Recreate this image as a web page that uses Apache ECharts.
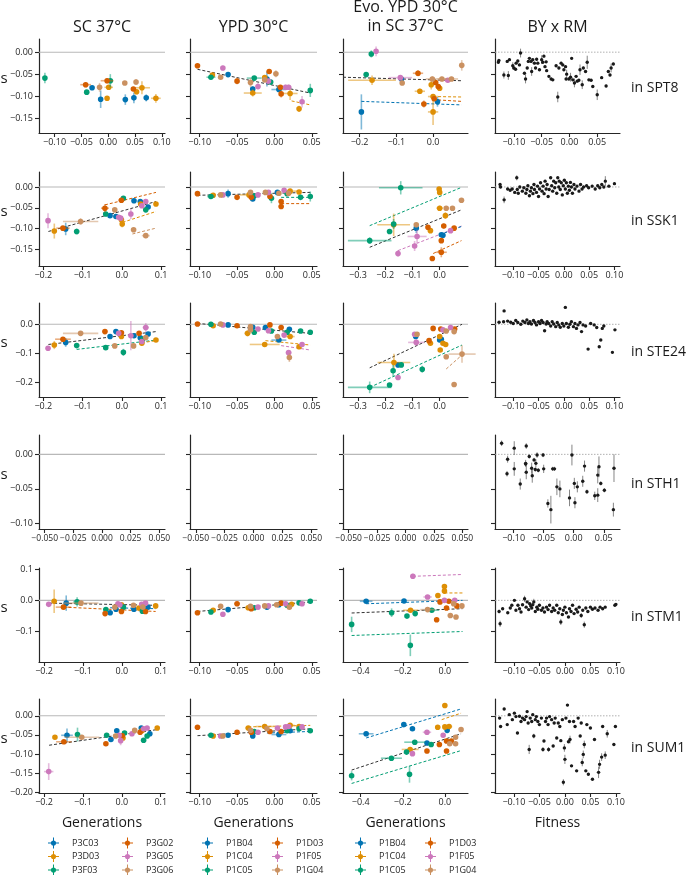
<!DOCTYPE html>
<html><head><meta charset="utf-8">
<script src="https://cdn.jsdelivr.net/npm/echarts@6/dist/echarts.min.js"></script>
<style>html,body{margin:0;padding:0;background:#fff}#c{width:686px;height:875px}</style>
</head><body><div id="c"></div>
<script>
// ---------------- labels ----------------
const genes = ['SPT8','SSK1','STE24','STH1','STM1','SUM1'];
const colTitles = ['SC 37°C','YPD 30°C','Evo. YPD 30°C\nin SC 37°C','BY x RM'];
const xTitles = ['Generations','Generations','Generations','Fitness'];
const strainsSC = ['P3C03','P3D03','P3F03','P3G02','P3G05','P3G06'];
const strainsYPD = ['P1B04','P1C04','P1C05','P1D03','P1F05','P1G04'];

// ---------------- tick labels ----------------
const ticksFit5 = [-0.10,-0.05,0.00,0.05,0.10];
const ticksFit4 = [-0.10,-0.05,0.00,0.05];
const ticksGen3 = [-0.2,-0.1,0.0];
const ticksGen4 = [-0.2,-0.1,0.0,0.1];
const ticksGenWide = [-0.3,-0.2,-0.1,0.0];
const ticksGenWider = [-0.4,-0.2,0.0];
const ticksEmpty = [-0.050,-0.025,0.000,0.025,0.050];
const yTicksSPT8 = [-0.15,-0.10,-0.05,0.00];
const yTicksSSK1 = [-0.15,-0.10,-0.05,0.00];
const yTicksSTE24 = [-0.2,-0.1,0.0];
const yTicksSTH1 = [-0.10,-0.05,0.00];
const yTicksSTM1 = [-0.1,0.0,0.1];
const yTicksSUM1 = [-0.20,-0.15,-0.10,-0.05,0.00];

// ---------------- data: [strain, x, y, xerr, yerr] ----------------
const pts_SPT8_SC = [[2,-0.118,-0.059,0.003,0.012],[3,-0.042,-0.074,0.010,0.006],[2,-0.040,-0.091,0.003,0.004],[0,-0.030,-0.081,0.003,0.004],[5,-0.016,-0.080,0.004,0.010],[0,-0.014,-0.107,0.004,0.020],[3,-0.002,-0.065,0.012,0.006],[2,0.004,-0.065,0.003,0.015],[1,0.001,-0.080,0.008,0.005],[1,-0.002,-0.105,0.003,0.004],[5,0.031,-0.070,0.003,0.004],[0,0.032,-0.108,0.003,0.012],[5,0.052,-0.068,0.003,0.007],[3,0.047,-0.084,0.004,0.005],[1,0.053,-0.090,0.003,0.006],[0,0.048,-0.104,0.003,0.012],[1,0.063,-0.081,0.015,0.015],[0,0.071,-0.104,0.003,0.008],[1,0.089,-0.105,0.009,0.010]];
const fit_SPT8_SC = [];
const pts_SPT8_YPD = [[3,-0.103,-0.031,0.002,0.004],[2,-0.085,-0.057,0.006,0.005],[1,-0.083,-0.052,0.002,0.004],[4,-0.069,-0.036,0.002,0.005],[5,-0.072,-0.057,0.002,0.004],[0,-0.062,-0.051,0.002,0.005],[3,-0.050,-0.066,0.003,0.007],[5,-0.032,-0.069,0.002,0.010],[1,-0.029,-0.093,0.012,0.008],[0,-0.029,-0.084,0.002,0.006],[2,-0.027,-0.059,0.010,0.004],[4,-0.022,-0.078,0.002,0.007],[1,-0.013,-0.058,0.002,0.004],[5,-0.013,-0.063,0.002,0.004],[0,-0.010,-0.061,0.002,0.017],[3,-0.007,-0.044,0.003,0.004],[4,-0.008,-0.066,0.002,0.004],[2,-0.005,-0.068,0.003,0.006],[5,0.002,-0.049,0.002,0.008],[0,0.006,-0.085,0.010,0.004],[3,0.009,-0.095,0.002,0.008],[3,0.008,-0.080,0.003,0.005],[4,0.015,-0.080,0.002,0.006],[4,0.019,-0.080,0.004,0.006],[1,0.021,-0.094,0.010,0.015],[1,0.033,-0.129,0.002,0.007],[4,0.037,-0.113,0.002,0.013],[2,0.048,-0.087,0.002,0.015]];
const fit_SPT8_YPD = [[-1,-0.103,-0.039,0.048,-0.093],[1,0.023,-0.111,0.048,-0.120]];
const pts_SPT8_EVO = [[2,-0.168,-0.004,0.002,0.008],[4,-0.155,0.002,0.003,0.011],[2,-0.182,-0.051,0.004,0.005],[1,-0.166,-0.064,0.065,0.011],[4,-0.089,-0.058,0.032,0.005],[5,-0.084,-0.070,0.004,0.005],[0,-0.086,-0.061,0.004,0.006],[3,-0.041,-0.048,0.014,0.007],[1,-0.036,-0.089,0.014,0.006],[5,-0.002,-0.061,0.018,0.006],[1,-0.005,-0.074,0.004,0.011],[3,0.007,-0.069,0.004,0.005],[3,0.014,-0.078,0.004,0.006],[1,0.018,-0.082,0.004,0.005],[5,0.024,-0.061,0.012,0.005],[1,0.000,-0.101,0.014,0.005],[3,0.003,-0.106,0.004,0.006],[3,-0.025,-0.118,0.004,0.008],[1,0.000,-0.136,0.014,0.030],[0,0.012,-0.113,0.004,0.011],[0,-0.195,-0.136,0.004,0.040],[4,0.040,-0.064,0.010,0.005],[5,0.050,-0.061,0.018,0.005],[5,0.078,-0.030,0.004,0.012]];
const fit_SPT8_EVO = [[-1,-0.245,-0.057,0.077,-0.065],[0,-0.195,-0.112,0.077,-0.120],[1,0.0,-0.101,0.077,-0.102],[3,0.0,-0.108,0.077,-0.112]];

const pts_SSK1_SC = [[4,-0.188,-0.081,0.004,0.018],[1,-0.172,-0.106,0.004,0.018],[3,-0.150,-0.099,0.017,0.005],[0,-0.143,-0.101,0.004,0.015],[2,-0.115,-0.107,0.004,0.007],[5,-0.105,-0.083,0.045,0.008],[3,-0.043,-0.051,0.010,0.010],[2,-0.041,-0.065,0.004,0.005],[0,-0.030,-0.069,0.004,0.004],[5,-0.018,-0.055,0.004,0.004],[0,-0.015,-0.071,0.004,0.004],[4,-0.008,-0.073,0.006,0.005],[4,-0.003,-0.075,0.004,0.005],[1,-0.001,-0.079,0.004,0.006],[1,0.001,-0.089,0.004,0.008],[3,-0.001,-0.032,0.008,0.004],[2,0.004,-0.027,0.004,0.004],[0,0.031,-0.033,0.004,0.004],[5,0.030,-0.103,0.004,0.005],[4,0.023,-0.065,0.004,0.012],[0,0.047,-0.035,0.004,0.004],[4,0.051,-0.045,0.004,0.005],[1,0.048,-0.041,0.004,0.004],[4,0.061,-0.035,0.004,0.004],[2,0.061,-0.055,0.004,0.005],[0,0.067,-0.048,0.004,0.004],[1,0.087,-0.041,0.004,0.004],[5,0.061,-0.117,0.010,0.006]];
const fit_SSK1_SC = [[-1,-0.187,-0.107,0.087,-0.035],[3,-0.043,-0.043,0.087,-0.013],[1,0.002,-0.085,0.087,-0.059],[5,0.027,-0.113,0.087,-0.099]];
const pts_SSK1_YPD = [[3,-0.103,-0.016,0.002,0.004],[2,-0.085,-0.023,0.005,0.004],[1,-0.082,-0.020,0.002,0.004],[5,-0.072,-0.019,0.002,0.004],[4,-0.069,-0.019,0.002,0.004],[0,-0.062,-0.016,0.002,0.010],[3,-0.050,-0.025,0.003,0.004],[5,-0.032,-0.013,0.002,0.004],[1,-0.034,-0.019,0.012,0.004],[3,-0.031,-0.025,0.002,0.004],[0,-0.029,-0.029,0.002,0.005],[2,-0.027,-0.021,0.002,0.004],[4,-0.022,-0.019,0.002,0.006],[5,-0.012,-0.013,0.002,0.004],[4,-0.008,-0.013,0.002,0.004],[3,-0.006,-0.023,0.002,0.004],[2,-0.004,-0.027,0.002,0.012],[0,0.004,-0.013,0.002,0.004],[5,0.006,-0.015,0.002,0.004],[3,0.009,-0.035,0.002,0.004],[3,0.009,-0.047,0.002,0.004],[4,0.013,-0.008,0.002,0.004],[2,0.017,-0.016,0.002,0.004],[1,0.021,-0.010,0.010,0.004],[5,0.019,-0.015,0.002,0.004],[1,0.033,-0.012,0.002,0.004],[2,0.035,-0.025,0.002,0.004],[2,0.048,-0.023,0.002,0.012]];
const fit_SSK1_YPD = [[-1,-0.103,-0.020,0.048,-0.013],[3,0.009,-0.040,0.048,-0.040],[2,0.009,-0.025,0.048,-0.025]];
const pts_SSK1_EVO = [[2,-0.143,-0.002,0.080,0.016],[1,-0.002,-0.005,0.004,0.004],[1,0.000,-0.013,0.004,0.004],[5,0.080,-0.032,0.004,0.004],[1,0.000,-0.051,0.012,0.006],[5,0.024,-0.051,0.004,0.004],[5,0.047,-0.051,0.004,0.004],[1,0.021,-0.069,0.004,0.008],[2,-0.169,-0.089,0.004,0.012],[1,-0.169,-0.091,0.060,0.027],[2,-0.184,-0.107,0.004,0.006],[5,-0.086,-0.091,0.004,0.004],[0,-0.086,-0.099,0.004,0.012],[3,-0.043,-0.097,0.006,0.004],[1,-0.034,-0.105,0.010,0.004],[3,0.015,-0.094,0.004,0.006],[0,0.006,-0.115,0.006,0.004],[0,0.012,-0.116,0.004,0.004],[3,0.006,-0.129,0.004,0.004],[4,0.040,-0.105,0.004,0.004],[3,0.053,-0.099,0.004,0.004],[4,-0.083,-0.119,0.035,0.016],[4,-0.092,-0.142,0.004,0.012],[4,-0.153,-0.160,0.004,0.008],[2,-0.257,-0.129,0.080,0.008],[3,0.006,-0.157,0.020,0.012],[3,-0.027,-0.172,0.004,0.004]];
const fit_SSK1_EVO = [[2,-0.257,-0.093,0.080,-0.001],[-1,-0.257,-0.145,0.080,-0.055],[4,-0.153,-0.153,0.080,-0.094],[0,0.0,-0.115,0.080,-0.095],[3,-0.024,-0.160,0.080,-0.129]];

const pts_STE24_SC = [[4,-0.188,-0.082,0.004,0.006],[1,-0.172,-0.071,0.004,0.014],[3,-0.150,-0.051,0.020,0.005],[0,-0.143,-0.062,0.006,0.015],[2,-0.115,-0.073,0.004,0.008],[5,-0.105,-0.031,0.045,0.005],[3,-0.043,-0.025,0.006,0.005],[2,-0.041,-0.080,0.004,0.005],[0,-0.030,-0.042,0.004,0.005],[0,-0.015,-0.025,0.004,0.005],[4,-0.008,-0.031,0.004,0.006],[5,-0.018,-0.074,0.004,0.005],[3,-0.001,-0.029,0.004,0.005],[1,-0.001,-0.042,0.004,0.006],[2,0.004,-0.096,0.004,0.012],[4,0.023,-0.039,0.004,0.050],[5,0.030,-0.074,0.006,0.006],[0,0.031,-0.039,0.004,0.005],[3,0.044,-0.031,0.004,0.005],[0,0.047,-0.046,0.004,0.005],[2,0.053,-0.051,0.004,0.006],[4,0.051,-0.059,0.004,0.008],[1,0.051,-0.065,0.004,0.008],[5,0.061,-0.045,0.004,0.005],[4,0.061,-0.011,0.008,0.015],[0,0.067,-0.033,0.004,0.005],[1,0.087,-0.054,0.004,0.005]];
const fit_STE24_SC = [[-1,-0.187,-0.069,0.087,-0.025],[2,-0.115,-0.086,0.087,-0.054],[1,0.051,-0.063,0.087,-0.056]];
const pts_STE24_YPD = [[3,-0.103,0.001,0.002,0.004],[2,-0.085,0.000,0.002,0.004],[1,-0.082,-0.005,0.002,0.004],[5,-0.072,0.001,0.002,0.004],[4,-0.069,-0.002,0.002,0.004],[0,-0.062,-0.002,0.002,0.004],[3,-0.050,-0.005,0.002,0.004],[5,-0.032,-0.019,0.002,0.006],[0,-0.029,-0.010,0.002,0.004],[1,-0.036,-0.031,0.004,0.010],[5,-0.032,-0.008,0.002,0.004],[2,-0.027,-0.027,0.002,0.004],[4,-0.022,-0.016,0.002,0.004],[0,-0.012,-0.011,0.002,0.004],[4,-0.008,-0.022,0.002,0.004],[3,-0.006,-0.002,0.002,0.004],[2,-0.004,-0.023,0.002,0.004],[1,-0.013,-0.069,0.020,0.004],[0,0.006,-0.054,0.010,0.004],[5,0.004,-0.042,0.002,0.004],[3,0.009,-0.011,0.002,0.004],[4,0.013,-0.037,0.002,0.004],[2,0.017,-0.027,0.002,0.004],[0,0.020,-0.017,0.002,0.004],[1,0.021,-0.042,0.006,0.004],[4,0.019,-0.097,0.004,0.008],[5,0.020,-0.114,0.002,0.015],[2,0.035,-0.023,0.002,0.004],[1,0.033,-0.077,0.002,0.004],[4,0.037,-0.069,0.002,0.004],[2,0.048,-0.027,0.002,0.004]];
const fit_STE24_YPD = [[-1,-0.103,0.003,0.048,-0.031],[1,-0.012,-0.056,0.048,-0.071],[4,0.009,-0.073,0.048,-0.088]];
const pts_STE24_EVO = [[3,-0.024,-0.014,0.004,0.004],[3,0.004,-0.016,0.004,0.004],[4,0.040,-0.011,0.004,0.008],[3,0.055,-0.016,0.004,0.004],[4,0.012,-0.019,0.004,0.004],[5,0.024,-0.023,0.004,0.004],[5,0.053,-0.025,0.004,0.004],[4,-0.092,-0.034,0.004,0.004],[5,-0.083,-0.034,0.004,0.004],[0,-0.088,-0.042,0.004,0.004],[1,0.000,-0.042,0.004,0.004],[3,-0.039,-0.056,0.006,0.004],[1,-0.034,-0.065,0.008,0.004],[4,-0.086,-0.062,0.030,0.010],[0,0.000,-0.054,0.004,0.004],[0,0.006,-0.051,0.004,0.004],[1,0.012,-0.065,0.004,0.004],[1,0.022,-0.069,0.004,0.004],[1,0.002,-0.088,0.004,0.004],[5,0.024,-0.111,0.004,0.004],[5,0.082,-0.102,0.050,0.030],[1,-0.168,-0.131,0.060,0.030],[0,-0.153,-0.139,0.004,0.008],[2,-0.141,-0.139,0.004,0.008],[2,-0.171,-0.159,0.004,0.020],[2,-0.064,-0.154,0.004,0.012],[4,-0.153,-0.182,0.004,0.008],[2,-0.184,-0.208,0.004,0.004],[2,-0.257,-0.216,0.080,0.020],[5,0.053,-0.206,0.004,0.004]];
const fit_STE24_EVO = [[-1,-0.257,-0.149,0.082,0.0],[2,-0.257,-0.216,0.082,-0.071],[5,0.024,-0.153,0.082,-0.105]];

const pts_STH1_SC = [], fit_STH1_SC = [];
const pts_STH1_YPD = [], fit_STH1_YPD = [];
const pts_STH1_EVO = [], fit_STH1_EVO = [];

const pts_STM1_SC = [[4,-0.188,-0.013,0.006,0.004],[1,-0.174,-0.003,0.004,0.038],[3,-0.150,-0.022,0.020,0.006],[0,-0.143,-0.009,0.004,0.025],[2,-0.115,-0.005,0.010,0.015],[5,-0.105,-0.009,0.045,0.006],[3,-0.043,-0.043,0.004,0.004],[2,-0.041,-0.030,0.004,0.004],[0,-0.030,-0.040,0.004,0.004],[0,-0.015,-0.029,0.004,0.004],[4,-0.010,-0.011,0.006,0.004],[4,-0.005,-0.014,0.004,0.004],[5,-0.018,-0.022,0.004,0.004],[3,-0.001,-0.036,0.004,0.006],[1,-0.001,-0.014,0.004,0.004],[2,0.004,-0.022,0.004,0.006],[0,0.031,-0.029,0.004,0.004],[5,0.030,-0.016,0.004,0.004],[1,0.044,-0.025,0.004,0.004],[4,0.051,-0.013,0.006,0.004],[2,0.053,-0.035,0.004,0.004],[5,0.054,-0.022,0.004,0.004],[4,0.061,-0.009,0.006,0.006],[3,0.061,-0.036,0.004,0.006],[0,0.067,-0.022,0.004,0.004],[1,0.087,-0.018,0.004,0.004]];
const fit_STM1_SC = [[-1,-0.187,-0.009,0.087,-0.016],[3,-0.150,-0.022,0.087,-0.036],[0,-0.030,-0.024,0.087,-0.027]];
const pts_STM1_YPD = [[3,-0.103,-0.040,0.002,0.004],[2,-0.085,-0.038,0.002,0.004],[1,-0.082,-0.032,0.002,0.004],[5,-0.072,-0.019,0.002,0.004],[4,-0.069,-0.045,0.002,0.004],[0,-0.062,-0.030,0.002,0.004],[3,-0.050,-0.011,0.004,0.004],[1,-0.035,-0.024,0.004,0.004],[5,-0.032,-0.019,0.002,0.004],[3,-0.031,-0.027,0.002,0.004],[2,-0.027,-0.024,0.002,0.004],[4,-0.022,-0.022,0.002,0.004],[5,-0.013,-0.018,0.002,0.004],[0,-0.010,-0.022,0.002,0.004],[4,-0.008,-0.018,0.002,0.004],[5,0.003,-0.014,0.002,0.004],[0,0.006,-0.014,0.002,0.004],[3,0.009,-0.009,0.002,0.004],[4,0.015,-0.011,0.002,0.004],[2,0.017,-0.016,0.002,0.004],[5,0.020,-0.022,0.002,0.004],[1,0.023,-0.013,0.002,0.004],[2,0.033,-0.008,0.002,0.004],[4,0.037,-0.011,0.002,0.004],[2,0.048,-0.003,0.002,0.004]];
const fit_STM1_YPD = [[-1,-0.103,-0.036,0.048,-0.005]];
const pts_STM1_EVO = [[4,-0.152,0.078,0.008,0.008],[1,-0.002,0.045,0.006,0.006],[1,-0.002,0.030,0.006,0.006],[4,-0.082,0.011,0.020,0.005],[1,-0.033,0.016,0.006,0.005],[4,-0.002,0.000,0.006,0.004],[4,0.047,0.000,0.006,0.004],[0,-0.374,-0.003,0.030,0.004],[0,-0.194,-0.002,0.006,0.004],[3,-0.023,-0.005,0.006,0.004],[3,0.019,-0.003,0.006,0.004],[3,0.008,-0.025,0.006,0.004],[3,0.057,-0.018,0.006,0.004],[5,0.081,-0.018,0.006,0.004],[5,0.042,-0.011,0.006,0.004],[5,-0.082,-0.030,0.035,0.004],[1,-0.163,-0.032,0.035,0.004],[2,-0.062,-0.032,0.035,0.006],[2,-0.253,-0.040,0.006,0.014],[2,-0.141,-0.043,0.006,0.006],[2,-0.180,-0.051,0.006,0.004],[5,0.026,-0.049,0.006,0.004],[5,0.053,-0.054,0.006,0.004],[3,-0.039,-0.063,0.006,0.004],[2,-0.443,-0.078,0.006,0.025],[2,-0.164,-0.146,0.006,0.035]];
const fit_STM1_EVO = [[4,-0.152,0.078,0.084,0.084],[1,-0.002,0.024,0.084,0.024],[0,-0.374,-0.011,0.084,0.0],[-1,-0.443,-0.041,0.084,-0.027],[2,-0.443,-0.114,0.084,-0.101]];

const pts_SUM1_SC = [[4,-0.188,-0.146,0.012,0.022],[1,-0.172,-0.056,0.004,0.004],[3,-0.149,-0.068,0.020,0.004],[0,-0.141,-0.051,0.015,0.018],[2,-0.114,-0.049,0.004,0.018],[5,-0.103,-0.056,0.045,0.006],[3,-0.041,-0.073,0.004,0.004],[2,-0.039,-0.051,0.004,0.004],[0,-0.028,-0.062,0.004,0.004],[0,-0.013,-0.039,0.004,0.004],[5,-0.016,-0.053,0.004,0.004],[4,-0.007,-0.051,0.004,0.004],[4,-0.003,-0.065,0.004,0.012],[3,0.001,-0.052,0.004,0.004],[1,0.003,-0.058,0.004,0.004],[2,0.007,-0.045,0.004,0.004],[4,0.026,-0.047,0.004,0.004],[5,0.033,-0.038,0.004,0.004],[0,0.050,-0.032,0.004,0.004],[3,0.047,-0.043,0.004,0.004],[1,0.052,-0.039,0.004,0.004],[4,0.056,-0.034,0.006,0.004],[2,0.056,-0.064,0.004,0.006],[2,0.065,-0.053,0.004,0.004],[0,0.072,-0.047,0.004,0.004],[4,0.065,-0.032,0.004,0.004],[1,0.091,-0.032,0.004,0.004]];
const fit_SUM1_SC = [[-1,-0.187,-0.077,0.091,-0.036]];
const pts_SUM1_YPD = [[3,-0.103,-0.030,0.002,0.004],[2,-0.085,-0.051,0.002,0.004],[1,-0.082,-0.053,0.002,0.004],[4,-0.072,-0.053,0.002,0.004],[5,-0.069,-0.053,0.002,0.004],[0,-0.062,-0.051,0.002,0.004],[3,-0.050,-0.043,0.002,0.004],[1,-0.035,-0.032,0.004,0.004],[5,-0.032,-0.038,0.002,0.004],[3,-0.031,-0.043,0.002,0.004],[0,-0.029,-0.053,0.002,0.005],[2,-0.027,-0.041,0.002,0.004],[4,-0.022,-0.043,0.002,0.004],[1,-0.013,-0.028,0.012,0.004],[3,-0.006,-0.041,0.002,0.004],[5,-0.010,-0.034,0.002,0.004],[0,0.006,-0.049,0.010,0.004],[3,0.009,-0.041,0.002,0.004],[4,0.004,-0.032,0.002,0.004],[2,0.017,-0.039,0.002,0.004],[4,0.015,-0.029,0.002,0.004],[1,0.021,-0.025,0.006,0.004],[4,0.019,-0.028,0.002,0.004],[0,0.021,-0.039,0.002,0.004],[1,0.033,-0.028,0.002,0.004],[2,0.033,-0.034,0.002,0.004],[4,0.037,-0.029,0.002,0.004],[2,0.048,-0.039,0.002,0.004]];
const fit_SUM1_YPD = [[-1,-0.103,-0.052,0.048,-0.034],[0,-0.010,-0.045,0.048,-0.041],[1,-0.035,-0.029,0.048,-0.025]];
const pts_SUM1_EVO = [[1,0.000,0.027,0.006,0.006],[0,-0.195,-0.023,0.006,0.004],[0,-0.374,-0.047,0.035,0.004],[0,-0.154,-0.034,0.006,0.004],[0,0.011,-0.038,0.006,0.006],[1,-0.034,-0.030,0.012,0.004],[1,0.000,-0.029,0.006,0.004],[1,0.020,-0.028,0.015,0.004],[5,0.077,-0.036,0.006,0.004],[4,-0.085,-0.043,0.020,0.004],[4,-0.008,-0.051,0.006,0.004],[2,-0.143,-0.069,0.050,0.004],[0,-0.085,-0.071,0.006,0.004],[2,-0.065,-0.075,0.006,0.004],[3,-0.026,-0.075,0.006,0.004],[3,0.008,-0.066,0.006,0.004],[5,0.023,-0.073,0.006,0.004],[3,0.031,-0.066,0.006,0.004],[5,0.051,-0.073,0.006,0.004],[5,0.051,-0.056,0.006,0.004],[1,-0.165,-0.088,0.040,0.006],[2,-0.182,-0.095,0.006,0.006],[4,-0.154,-0.099,0.006,0.006],[3,-0.085,-0.092,0.006,0.004],[3,0.008,-0.092,0.006,0.004],[2,-0.254,-0.111,0.050,0.006],[2,-0.443,-0.157,0.006,0.012],[2,-0.168,-0.153,0.006,0.022]];
const fit_SUM1_EVO = [[0,-0.374,-0.058,0.077,0.018],[1,-0.015,-0.010,0.077,0.007],[-1,-0.443,-0.142,0.077,-0.047],[2,-0.443,-0.177,0.077,-0.091]];

// BY x RM: [fitness, s, yerr]
const byrm_SPT8 = [[-0.128,-0.023,0.003],[-0.127,-0.019,0.003],[-0.118,-0.052,0.008],[-0.110,-0.053,0.010],[-0.112,-0.021,0.003],[-0.108,-0.017,0.003],[-0.102,-0.031,0.008],[-0.100,-0.036,0.003],[-0.097,-0.039,0.003],[-0.096,-0.025,0.003],[-0.093,-0.020,0.003],[-0.088,-0.002,0.010],[-0.090,-0.029,0.003],[-0.081,-0.048,0.003],[-0.079,-0.061,0.010],[-0.076,-0.036,0.003],[-0.074,-0.021,0.003],[-0.072,-0.014,0.003],[-0.069,-0.021,0.003],[-0.068,-0.044,0.010],[-0.066,-0.017,0.003],[-0.063,-0.025,0.003],[-0.061,-0.036,0.003],[-0.059,-0.016,0.003],[-0.057,-0.025,0.003],[-0.054,-0.040,0.003],[-0.050,-0.017,0.010],[-0.048,-0.023,0.003],[-0.046,-0.009,0.003],[-0.044,-0.033,0.003],[-0.042,-0.022,0.003],[-0.041,-0.042,0.003],[-0.037,-0.055,0.003],[-0.033,-0.061,0.003],[-0.030,-0.063,0.003],[-0.021,-0.102,0.012],[-0.024,-0.031,0.003],[-0.019,-0.036,0.003],[-0.015,-0.025,0.003],[-0.012,-0.029,0.003],[-0.010,-0.040,0.003],[-0.007,-0.033,0.003],[-0.006,-0.061,0.003],[-0.005,-0.050,0.010],[-0.001,-0.061,0.003],[0.002,-0.057,0.010],[0.004,-0.014,0.003],[0.006,-0.063,0.003],[0.009,-0.070,0.010],[0.012,-0.055,0.003],[0.014,-0.066,0.003],[0.017,-0.064,0.003],[0.019,-0.040,0.012],[0.023,-0.074,0.010],[0.025,-0.036,0.003],[0.029,-0.044,0.003],[0.032,-0.023,0.015],[0.035,-0.063,0.003],[0.039,-0.064,0.003],[0.042,-0.078,0.003],[0.050,-0.097,0.012],[0.058,-0.058,0.003],[0.066,-0.077,0.003],[0.070,-0.044,0.003],[0.073,-0.052,0.003],[0.075,-0.036,0.010],[0.079,-0.027,0.003]];
const byrm_SSK1 = [[-0.126,0.006,0.003],[-0.125,0.000,0.003],[-0.118,-0.031,0.008],[-0.111,-0.005,0.003],[-0.106,-0.008,0.003],[-0.102,-0.005,0.003],[-0.097,-0.013,0.003],[-0.093,0.022,0.006],[-0.092,-0.006,0.003],[-0.090,-0.015,0.003],[-0.087,0.000,0.003],[-0.082,-0.010,0.003],[-0.079,-0.002,0.003],[-0.075,-0.015,0.003],[-0.073,-0.006,0.003],[-0.071,0.003,0.003],[-0.068,-0.021,0.003],[-0.066,-0.010,0.003],[-0.064,-0.002,0.003],[-0.061,-0.016,0.003],[-0.059,0.006,0.003],[-0.058,-0.006,0.003],[-0.054,-0.013,0.003],[-0.052,0.002,0.003],[-0.050,-0.023,0.003],[-0.048,-0.005,0.003],[-0.046,0.010,0.003],[-0.043,-0.010,0.003],[-0.041,0.002,0.003],[-0.039,-0.016,0.003],[-0.037,0.014,0.003],[-0.035,-0.005,0.003],[-0.033,0.006,0.003],[-0.031,-0.023,0.003],[-0.029,-0.006,0.003],[-0.026,0.022,0.003],[-0.024,0.003,0.003],[-0.022,-0.010,0.003],[-0.020,0.014,0.003],[-0.018,-0.002,0.003],[-0.016,0.010,0.003],[-0.014,-0.015,0.003],[-0.012,0.022,0.003],[-0.010,0.000,0.003],[-0.009,0.014,0.003],[-0.007,-0.006,0.003],[-0.005,0.010,0.003],[-0.003,-0.019,0.003],[-0.001,0.003,0.003],[0.001,0.016,0.003],[0.003,-0.005,0.003],[0.005,0.010,0.003],[0.007,-0.015,0.003],[0.009,0.002,0.003],[0.011,-0.008,0.003],[0.013,0.011,0.003],[0.015,0.000,0.003],[0.017,-0.015,0.003],[0.020,0.006,0.003],[0.022,-0.005,0.003],[0.026,0.002,0.003],[0.030,-0.010,0.003],[0.033,0.006,0.003],[0.036,-0.005,0.003],[0.039,0.000,0.003],[0.045,0.003,0.003],[0.049,-0.002,0.003],[0.056,0.002,0.003],[0.062,-0.005,0.003],[0.067,0.003,0.003],[0.071,-0.002,0.003],[0.075,0.006,0.003],[0.079,0.000,0.003],[0.082,0.014,0.012],[0.089,0.002,0.003],[0.100,0.008,0.003]];
const byrm_STE24 = [[-0.118,0.046,0.003],[-0.128,0.007,0.003],[-0.119,0.009,0.003],[-0.111,0.011,0.003],[-0.105,0.007,0.003],[-0.100,0.003,0.003],[-0.095,0.013,0.003],[-0.091,0.006,0.003],[-0.085,0.000,0.003],[-0.081,0.011,0.003],[-0.077,0.006,0.003],[-0.073,0.015,0.003],[-0.070,0.003,0.003],[-0.067,0.009,0.003],[-0.064,0.001,0.003],[-0.060,0.013,0.003],[-0.057,0.006,0.003],[-0.054,-0.002,0.003],[-0.050,0.009,0.003],[-0.047,0.003,0.003],[-0.044,0.013,0.003],[-0.041,0.006,0.003],[-0.038,-0.022,0.003],[-0.035,0.001,0.003],[-0.033,0.009,0.003],[-0.030,0.003,0.003],[-0.026,-0.006,0.003],[-0.023,0.009,0.003],[-0.020,0.001,0.003],[-0.016,-0.008,0.003],[-0.013,0.006,0.003],[-0.010,-0.002,0.003],[-0.007,-0.010,0.003],[-0.003,0.003,0.003],[0.000,-0.006,0.003],[0.003,0.058,0.003],[0.005,0.003,0.003],[0.009,-0.010,0.003],[0.012,0.000,0.003],[0.015,0.009,0.003],[0.019,-0.008,0.003],[0.022,0.003,0.003],[0.025,-0.014,0.003],[0.028,-0.002,0.003],[0.032,0.006,0.003],[0.035,-0.025,0.003],[0.038,-0.002,0.003],[0.043,-0.006,0.003],[0.048,-0.085,0.003],[0.053,0.003,0.003],[0.060,-0.002,0.003],[0.065,-0.011,0.003],[0.070,-0.077,0.003],[0.073,-0.054,0.003],[0.076,-0.014,0.003],[0.079,-0.006,0.003],[0.096,-0.096,0.003],[0.101,-0.019,0.003]];
const byrm_STH1 = [[-0.120,0.016,0.004],[-0.110,-0.007,0.005],[-0.111,-0.028,0.004],[-0.099,0.009,0.010],[-0.099,-0.021,0.010],[-0.089,-0.043,0.008],[-0.079,0.012,0.004],[-0.080,-0.013,0.005],[-0.079,-0.026,0.010],[-0.080,-0.014,0.003],[-0.074,-0.003,0.003],[-0.070,-0.020,0.008],[-0.069,-0.031,0.010],[-0.066,-0.008,0.003],[-0.064,-0.022,0.003],[-0.063,-0.013,0.006],[-0.061,-0.001,0.004],[-0.059,-0.023,0.003],[-0.051,-0.001,0.003],[-0.050,-0.021,0.006],[-0.043,-0.071,0.006],[-0.038,-0.080,0.020],[-0.035,-0.021,0.003],[-0.032,-0.021,0.003],[-0.028,-0.047,0.012],[-0.023,-0.050,0.012],[-0.007,-0.063,0.012],[-0.003,-0.001,0.015],[0.001,-0.042,0.008],[0.002,-0.070,0.008],[0.006,-0.047,0.008],[0.015,-0.039,0.008],[0.018,-0.017,0.008],[0.022,-0.054,0.003],[0.035,-0.060,0.006],[0.040,-0.059,0.010],[0.040,-0.030,0.012],[0.042,-0.018,0.015],[0.045,-0.042,0.003],[0.051,-0.052,0.003],[0.067,-0.020,0.020],[0.066,-0.080,0.010]];
const byrm_STM1 = [[-0.129,-0.036,0.006],[-0.127,-0.076,0.010],[-0.122,-0.027,0.003],[-0.112,-0.040,0.003],[-0.107,-0.025,0.003],[-0.104,-0.016,0.003],[-0.099,0.000,0.003],[-0.096,-0.032,0.003],[-0.092,-0.016,0.003],[-0.089,-0.027,0.003],[-0.086,-0.038,0.003],[-0.083,-0.014,0.003],[-0.079,0.005,0.010],[-0.076,-0.022,0.003],[-0.074,-0.005,0.003],[-0.071,-0.030,0.003],[-0.069,-0.011,0.003],[-0.067,-0.018,0.003],[-0.065,-0.025,0.003],[-0.063,-0.014,0.003],[-0.061,-0.005,0.010],[-0.058,-0.036,0.003],[-0.055,-0.022,0.003],[-0.053,-0.029,0.003],[-0.050,-0.016,0.003],[-0.046,-0.032,0.003],[-0.043,-0.025,0.003],[-0.040,-0.038,0.003],[-0.036,-0.022,0.003],[-0.033,-0.030,0.003],[-0.030,-0.016,0.003],[-0.026,-0.036,0.003],[-0.023,-0.025,0.003],[-0.020,-0.032,0.003],[-0.016,-0.016,0.003],[-0.013,-0.040,0.003],[-0.010,-0.027,0.003],[-0.008,-0.070,0.010],[-0.005,-0.046,0.003],[-0.003,-0.032,0.003],[0.000,-0.022,0.003],[0.003,-0.040,0.003],[0.007,-0.054,0.003],[0.009,-0.027,0.003],[0.012,-0.036,0.003],[0.015,-0.016,0.003],[0.018,-0.043,0.003],[0.022,-0.029,0.003],[0.025,-0.038,0.003],[0.028,-0.022,0.003],[0.032,-0.049,0.008],[0.035,-0.032,0.003],[0.038,-0.079,0.010],[0.041,-0.025,0.003],[0.045,-0.036,0.003],[0.050,-0.022,0.003],[0.054,-0.029,0.003],[0.059,-0.025,0.003],[0.065,-0.032,0.003],[0.069,-0.022,0.003],[0.074,-0.027,0.003],[0.079,-0.022,0.003],[0.098,-0.016,0.003],[0.100,-0.013,0.003]];
const byrm_SUM1 = [[-0.128,-0.006,0.003],[-0.126,-0.028,0.003],[-0.119,0.018,0.003],[-0.113,-0.023,0.003],[-0.109,0.003,0.003],[-0.103,-0.010,0.003],[-0.099,0.007,0.003],[-0.096,-0.002,0.003],[-0.093,-0.045,0.003],[-0.089,-0.001,0.003],[-0.086,-0.015,0.003],[-0.083,-0.006,0.003],[-0.079,-0.010,0.003],[-0.076,-0.002,0.003],[-0.074,0.011,0.003],[-0.072,-0.019,0.003],[-0.070,-0.088,0.012],[-0.068,-0.006,0.003],[-0.065,-0.015,0.003],[-0.063,0.003,0.003],[-0.061,-0.053,0.006],[-0.058,-0.010,0.003],[-0.056,-0.002,0.003],[-0.053,-0.015,0.003],[-0.050,-0.023,0.003],[-0.046,-0.006,0.003],[-0.043,-0.088,0.006],[-0.041,-0.066,0.003],[-0.038,-0.015,0.003],[-0.036,-0.006,0.003],[-0.033,-0.023,0.003],[-0.032,-0.088,0.006],[-0.030,-0.002,0.003],[-0.026,-0.010,0.003],[-0.023,-0.079,0.003],[-0.021,-0.019,0.003],[-0.019,-0.006,0.003],[-0.016,-0.058,0.003],[-0.013,-0.019,0.003],[-0.010,-0.028,0.003],[-0.008,-0.065,0.003],[-0.005,-0.010,0.003],[-0.003,-0.174,0.008],[-0.001,-0.084,0.010],[0.000,-0.114,0.012],[0.002,-0.006,0.003],[0.005,0.028,0.003],[0.007,-0.068,0.003],[0.009,-0.015,0.003],[0.010,-0.062,0.010],[0.013,-0.131,0.003],[0.017,-0.015,0.003],[0.020,-0.028,0.003],[0.023,-0.144,0.003],[0.026,-0.006,0.003],[0.030,-0.053,0.003],[0.032,-0.019,0.003],[0.034,-0.122,0.010],[0.036,-0.101,0.010],[0.038,-0.075,0.010],[0.041,-0.144,0.003],[0.043,-0.023,0.003],[0.046,-0.153,0.003],[0.050,-0.032,0.003],[0.054,-0.166,0.003],[0.058,-0.062,0.003],[0.066,-0.148,0.015],[0.068,-0.127,0.012],[0.072,-0.108,0.010],[0.074,-0.028,0.003],[0.079,-0.103,0.010],[0.083,-0.047,0.010],[0.096,-0.075,0.003],[0.099,-0.028,0.003]];

// ---------------- panel tables (built from the arrays above) ----------------
const panelPts = [
  [pts_SPT8_SC, pts_SPT8_YPD, pts_SPT8_EVO],
  [pts_SSK1_SC, pts_SSK1_YPD, pts_SSK1_EVO],
  [pts_STE24_SC, pts_STE24_YPD, pts_STE24_EVO],
  [pts_STH1_SC, pts_STH1_YPD, pts_STH1_EVO],
  [pts_STM1_SC, pts_STM1_YPD, pts_STM1_EVO],
  [pts_SUM1_SC, pts_SUM1_YPD, pts_SUM1_EVO]
];
const panelFits = [
  [fit_SPT8_SC, fit_SPT8_YPD, fit_SPT8_EVO],
  [fit_SSK1_SC, fit_SSK1_YPD, fit_SSK1_EVO],
  [fit_STE24_SC, fit_STE24_YPD, fit_STE24_EVO],
  [fit_STH1_SC, fit_STH1_YPD, fit_STH1_EVO],
  [fit_STM1_SC, fit_STM1_YPD, fit_STM1_EVO],
  [fit_SUM1_SC, fit_SUM1_YPD, fit_SUM1_EVO]
];
const panelByrm = [byrm_SPT8, byrm_SSK1, byrm_STE24, byrm_STH1, byrm_STM1, byrm_SUM1];

// axis limits / ticks per row & column
const xLim = [
  [[-0.129,0.106],[-0.113,0.057],[-0.245,0.095],[-0.134,0.091]],
  [[-0.211,0.110],[-0.113,0.057],[-0.355,0.104],[-0.136,0.111]],
  [[-0.211,0.110],[-0.113,0.057],[-0.355,0.104],[-0.136,0.111]],
  [[-0.055,0.055],[-0.055,0.055],[-0.055,0.055],[-0.131,0.077]],
  [[-0.213,0.111],[-0.113,0.057],[-0.484,0.110],[-0.137,0.108]],
  [[-0.213,0.111],[-0.113,0.057],[-0.484,0.110],[-0.137,0.108]]
];
const xTicks = [
  [[ticksFit5,2],[ticksFit4,2],[ticksGen3,1],[ticksFit4,2]],
  [[ticksGen4,1],[ticksFit4,2],[ticksGenWide,1],[ticksFit5,2]],
  [[ticksGen4,1],[ticksFit4,2],[ticksGenWide,1],[ticksFit5,2]],
  [[ticksEmpty,3],[ticksEmpty,3],[ticksEmpty,3],[ticksFit4,2]],
  [[ticksGen4,1],[ticksFit4,2],[ticksGenWider,1],[ticksFit5,2]],
  [[ticksGen4,1],[ticksFit4,2],[ticksGenWider,1],[ticksFit5,2]]
];
const yLim = [[-0.184,0.030],[-0.190,0.036],[-0.249,0.073],[-0.108,0.028],[-0.200,0.105],[-0.202,0.044]];
const yTicks = [[yTicksSPT8,2],[yTicksSSK1,2],[yTicksSTE24,1],[yTicksSTH1,2],[yTicksSTM1,1],[yTicksSUM1,2]];

// ---------------- layout & style ----------------
const palette = ['#0173b2','#de8f05','#029e73','#d55e00','#cc78bc','#ca9161'];
const FONT = "'Open Sans', 'Noto Sans', sans-serif";
const INK = '#262626';
const gridLeft = [39, 190, 343, 495];
const gridWidth = [126, 127, 125, 125];
const rowTop = [39, 172, 303, 435, 568, 699];
const rowH = 94;

function fmt(v, d) {
  const s = Math.abs(v) < 1e-9 ? (0).toFixed(d) : v.toFixed(d);
  return s.replace('-', '\u2212');
}
function labeller(vals, d) {
  const labs = vals.map(v => fmt(v, d));
  return function (v) {
    const num = Number(v);
    let best = -1, bd = Infinity;
    vals.forEach((t, i) => { const dd = Math.abs(t - num); if (dd < bd) { bd = dd; best = i; } });
    return best >= 0 && bd < 1e-6 ? labs[best] : '';
  };
}

function errRender(r, lw, alpha, barColor) {
  return function (params, api) {
    const x = api.value(0), y = api.value(1), xe = api.value(2), ye = api.value(3);
    const col = api.visual('color');
    const bc = barColor || col;
    const c = api.coord([x, y]);
    const kids = [];
    if (xe > 0) {
      const a = api.coord([x - xe, y]), b = api.coord([x + xe, y]);
      kids.push({type:'line', shape:{x1:a[0],y1:a[1],x2:b[0],y2:b[1]}, style:{stroke:bc, lineWidth:lw, opacity:alpha}});
    }
    if (ye > 0) {
      const a = api.coord([x, y - ye]), b = api.coord([x, y + ye]);
      kids.push({type:'line', shape:{x1:a[0],y1:a[1],x2:b[0],y2:b[1]}, style:{stroke:bc, lineWidth:lw, opacity:alpha}});
    }
    kids.push({type:'circle', shape:{cx:c[0], cy:c[1], r:r}, style:{fill:col}});
    return {type:'group', children:kids};
  };
}

const grids = [], xAxes = [], yAxes = [], series = [];
for (let r = 0; r < 6; r++) {
  for (let c = 0; c < 4; c++) {
    const idx = r * 4 + c;
    grids.push({left: gridLeft[c], top: rowTop[r], width: gridWidth[c], height: rowH, containLabel: false});
    const xt = xTicks[r][c], yt = yTicks[r];
    xAxes.push({
      type:'value', gridIndex: idx, min: xLim[r][c][0], max: xLim[r][c][1],
      axisLine:{show:true, onZero:false, lineStyle:{color:INK, width:1.2}},
      axisTick:{show:true, length:4, customValues: xt[0], lineStyle:{color:INK, width:1.1}},
      axisLabel:{show:true, customValues: xt[0], formatter: labeller(xt[0], xt[1]), fontSize: (r === 3 && c < 3) ? 8.5 : 9, color: INK, fontFamily: FONT, margin: 5, hideOverlap: false},
      splitLine:{show:false}
    });
    yAxes.push({
      type:'value', gridIndex: idx, min: yLim[r][0], max: yLim[r][1],
      axisLine:{show:true, onZero:false, lineStyle:{color:INK, width:1.2}},
      axisTick:{show:true, length:4, customValues: yt[0], lineStyle:{color:INK, width:1.1}},
      axisLabel:{show: c === 0, customValues: yt[0], formatter: labeller(yt[0], yt[1]), fontSize: 9, color: INK, fontFamily: FONT, margin: 6, hideOverlap: false},
      splitLine:{show:false}
    });
    // zero reference line
    series.push({
      type:'line', xAxisIndex: idx, yAxisIndex: idx, silent: true, symbol:'none', z: 1,
      data: [[xLim[r][c][0], 0], [xLim[r][c][1], 0]],
      lineStyle: c < 3 ? {color:'#b8b8b8', width:1.1} : {color:'#a8a8a8', width:0.9, type:[1.5,1.5]}
    });
    if (c < 3) {
      const names = c === 0 ? strainsSC : strainsYPD;
      const pts = panelPts[r][c];
      for (let s = 0; s < 6; s++) {
        const d = pts.filter(p => p[0] === s).map(p => [p[1], p[2], p[3], p[4]]);
        series.push({
          type:'custom', name: names[s], xAxisIndex: idx, yAxisIndex: idx, z: 4,
          itemStyle:{color: palette[s]}, encode:{x:0, y:1}, data: d,
          renderItem: errRender(2.8, 1.6, 0.5)
        });
      }
      panelFits[r][c].forEach(f => {
        series.push({
          type:'line', name: f[0] < 0 ? 'fit' : names[f[0]], xAxisIndex: idx, yAxisIndex: idx, z: 3,
          silent: true, symbol:'none', legendHoverLink:false,
          data: [[f[1], f[2]], [f[3], f[4]]],
          lineStyle:{color: f[0] < 0 ? '#333333' : palette[f[0]], width: 1, type:[3,2]},
          itemStyle:{color: f[0] < 0 ? '#333333' : palette[f[0]]}
        });
      });
    } else {
      series.push({
        type:'custom', name:'BY x RM', xAxisIndex: idx, yAxisIndex: idx, z: 4,
        itemStyle:{color:'#1a1a1a'}, encode:{x:0, y:1},
        data: panelByrm[r].map(p => [p[0], p[1], 0, p[2]]),
        renderItem: errRender(1.7, 1.0, 0.6, '#333333')
      });
    }
  }
}

// ---------------- text ----------------
const graphics = [];
const colCenters = gridLeft.map((l, i) => l + gridWidth[i] / 2);
colTitles.forEach((t, i) => {
  graphics.push({type:'text', x: colCenters[i], y: t.indexOf('\n') >= 0 ? 17 : 27,
    style:{text: t, fill:'#1a1a1a', font: '16px ' + FONT, textAlign:'center', textVerticalAlign:'middle', lineHeight: 19}});
});
genes.forEach((g, r) => {
  graphics.push({type:'text', x: 631, y: rowTop[r] + rowH / 2 + 2,
    style:{text: 'in ' + g, fill:'#1a1a1a', font: '14px ' + FONT, textAlign:'left', textVerticalAlign:'middle'}});
  graphics.push({type:'text', x: 4, y: rowTop[r] + 40,
    style:{text: 's', fill:'#1a1a1a', font: '15px ' + FONT, textAlign:'center', textVerticalAlign:'middle'}});
});
xTitles.forEach((t, i) => {
  graphics.push({type:'text', x: colCenters[i], y: 823,
    style:{text: t, fill:'#1a1a1a', font: '14px ' + FONT, textAlign:'center', textVerticalAlign:'middle'}});
});

// ---------------- legends (one component per entry) ----------------
const legIcon = 'path://M0,5.45H12V6.55H0Z M5.45,0H6.55V12H5.45Z M8.8,6A2.8,2.8 0 1 1 3.2,6A2.8,2.8 0 1 1 8.8,6Z';
const legendCols = [
  [strainsSC.slice(0,3), 48], [strainsSC.slice(3), 122],
  [strainsYPD.slice(0,3), 202], [strainsYPD.slice(3), 272],
  [strainsYPD.slice(0,3), 355], [strainsYPD.slice(3), 425]
];
const legendRowCenters = [843, 856.5, 870];
const legends = [];
legendCols.forEach(([names, left]) => {
  names.forEach((nm, k) => {
    legends.push({
      data: [nm], orient:'horizontal', left: left, top: legendRowCenters[k] - 5.5, padding: 0,
      icon: legIcon, itemWidth: 11, itemHeight: 11, selectedMode: false,
      textStyle:{fontSize: 9, color: INK, fontFamily: FONT, padding:[0,0,0,8], lineHeight: 11}
    });
  });
});

const chart = echarts.init(document.getElementById('c'), null, {renderer:'canvas'});
chart.setOption({
  animation: false,
  backgroundColor: '#ffffff',
  textStyle: {fontFamily: FONT},
  grid: grids, xAxis: xAxes, yAxis: yAxes,
  legend: legends,
  series: series,
  graphic: graphics
});
</script>
</body></html>
